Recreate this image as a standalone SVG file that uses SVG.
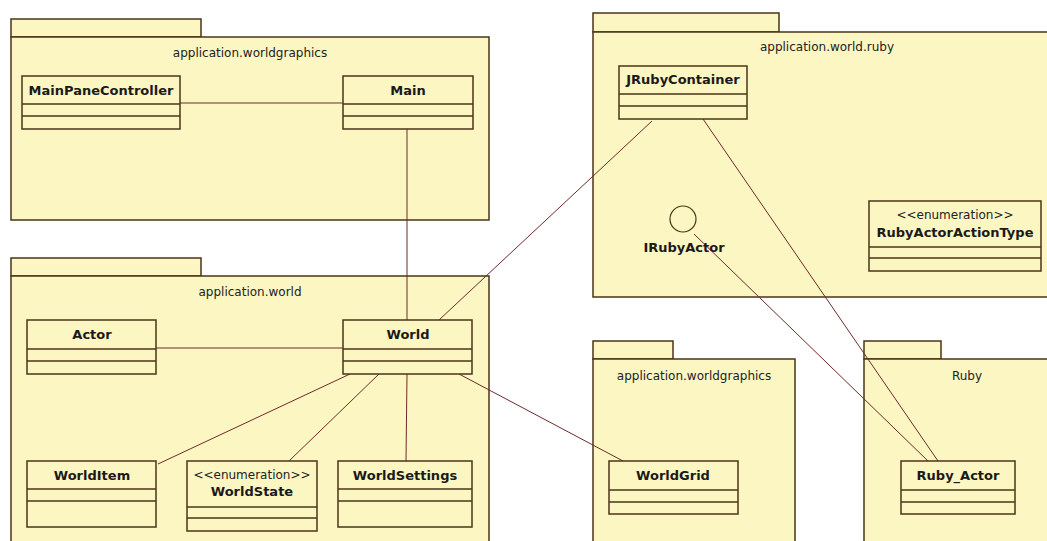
<svg xmlns="http://www.w3.org/2000/svg" width="1047" height="541" viewBox="0 0 1047 541">
<style>
.pkg{fill:#fcf6c2;stroke:#4a3418;stroke-width:1.5}
.cls{fill:#fcf6c2;stroke:#4a3418;stroke-width:1.5}
.div{stroke:#4a3418;stroke-width:1.5}
.ptitle{font-family:"DejaVu Sans",sans-serif;font-size:12px;fill:#222;text-anchor:middle}
.cname{font-family:"DejaVu Sans",sans-serif;font-size:13px;font-weight:bold;fill:#1a1a1a;text-anchor:middle}
.stereo{font-family:"DejaVu Sans",sans-serif;font-size:12px;fill:#222;text-anchor:middle}
.conn{stroke:#6e2a2a;stroke-width:1;fill:none}
</style>
<rect width="1047" height="541" fill="#ffffff"/>

<g id="pkg-worldgraphics-top">
<rect class="pkg" x="11" y="19" width="190" height="18"/>
<rect class="pkg" x="11" y="37" width="478" height="183"/>
<text class="ptitle" x="250" y="57">application.worldgraphics</text>
</g>
<g id="pkg-world">
<rect class="pkg" x="11" y="258" width="190" height="18"/>
<rect class="pkg" x="11" y="276" width="478" height="270"/>
<text class="ptitle" x="250" y="296">application.world</text>
</g>
<g id="pkg-ruby-app">
<rect class="pkg" x="593" y="13" width="186" height="19"/>
<rect class="pkg" x="593" y="32" width="460" height="265"/>
<text class="ptitle" x="827" y="51">application.world.ruby</text>
</g>
<g id="pkg-worldgraphics-bottom">
<rect class="pkg" x="593" y="341" width="80" height="18"/>
<rect class="pkg" x="593" y="359" width="202" height="187"/>
<text class="ptitle" x="694" y="380">application.worldgraphics</text>
</g>
<g id="pkg-Ruby">
<rect class="pkg" x="864" y="341" width="77" height="18"/>
<rect class="pkg" x="864" y="359" width="189" height="187"/>
<text class="ptitle" x="967" y="380">Ruby</text>
</g>

<g id="connectors">
<line class="conn" x1="180" y1="103" x2="343" y2="103"/>
<line class="conn" x1="407" y1="129" x2="407" y2="320"/>
<line class="conn" x1="156" y1="348" x2="343" y2="348"/>
<line class="conn" x1="350" y1="374" x2="158" y2="464"/>
<line class="conn" x1="379" y1="374" x2="289" y2="461"/>
<line class="conn" x1="407" y1="374" x2="406" y2="461"/>
<line class="conn" x1="459" y1="374" x2="623" y2="461"/>
<line class="conn" x1="439" y1="320" x2="652" y2="121"/>
<line class="conn" x1="703" y1="119" x2="938" y2="461"/>
<line class="conn" x1="694" y1="234" x2="928" y2="461"/>
</g>

<g id="MainPaneController">
<rect class="cls" x="22" y="76" width="158" height="53"/>
<line class="div" x1="22" y1="104" x2="180" y2="104"/>
<line class="div" x1="22" y1="116" x2="180" y2="116"/>
<text class="cname" x="101" y="95">MainPaneController</text>
</g>
<g id="Main">
<rect class="cls" x="343" y="76" width="130" height="53"/>
<line class="div" x1="343" y1="104" x2="473" y2="104"/>
<line class="div" x1="343" y1="116" x2="473" y2="116"/>
<text class="cname" x="408" y="95">Main</text>
</g>
<g id="Actor">
<rect class="cls" x="27" y="320" width="129" height="54"/>
<line class="div" x1="27" y1="349" x2="156" y2="349"/>
<line class="div" x1="27" y1="361" x2="156" y2="361"/>
<text class="cname" x="92" y="339">Actor</text>
</g>
<g id="World">
<rect class="cls" x="343" y="320" width="129" height="54"/>
<line class="div" x1="343" y1="349" x2="472" y2="349"/>
<line class="div" x1="343" y1="361" x2="472" y2="361"/>
<text class="cname" x="408" y="339">World</text>
</g>
<g id="WorldItem">
<rect class="cls" x="27" y="461" width="129" height="66"/>
<line class="div" x1="27" y1="489" x2="156" y2="489"/>
<line class="div" x1="27" y1="501" x2="156" y2="501"/>
<text class="cname" x="92" y="480">WorldItem</text>
</g>
<g id="WorldState">
<rect class="cls" x="187" y="461" width="130" height="70"/>
<line class="div" x1="187" y1="507" x2="317" y2="507"/>
<line class="div" x1="187" y1="518" x2="317" y2="518"/>
<text class="stereo" x="252" y="479">&lt;&lt;enumeration&gt;&gt;</text>
<text class="cname" x="252" y="496">WorldState</text>
</g>
<g id="WorldSettings">
<rect class="cls" x="338" y="461" width="134" height="66"/>
<line class="div" x1="338" y1="489" x2="472" y2="489"/>
<line class="div" x1="338" y1="501" x2="472" y2="501"/>
<text class="cname" x="405" y="480">WorldSettings</text>
</g>
<g id="JRubyContainer">
<rect class="cls" x="619" y="66" width="128" height="53"/>
<line class="div" x1="619" y1="94" x2="747" y2="94"/>
<line class="div" x1="619" y1="106" x2="747" y2="106"/>
<text class="cname" x="683" y="84">JRubyContainer</text>
</g>
<g id="IRubyActor">
<circle cx="683" cy="219" r="13" fill="#fcf6c2" stroke="#4a3418" stroke-width="1.2"/>
<text class="cname" x="684" y="252">IRubyActor</text>
</g>
<g id="RubyActorActionType">
<rect class="cls" x="869" y="201" width="172" height="70"/>
<line class="div" x1="869" y1="247" x2="1041" y2="247"/>
<line class="div" x1="869" y1="258" x2="1041" y2="258"/>
<text class="stereo" x="955" y="219">&lt;&lt;enumeration&gt;&gt;</text>
<text class="cname" x="955" y="237">RubyActorActionType</text>
</g>
<g id="WorldGrid">
<rect class="cls" x="609" y="461" width="129" height="53"/>
<line class="div" x1="609" y1="490" x2="738" y2="490"/>
<line class="div" x1="609" y1="502" x2="738" y2="502"/>
<text class="cname" x="673" y="480">WorldGrid</text>
</g>
<g id="Ruby_Actor">
<rect class="cls" x="901" y="461" width="114" height="53"/>
<line class="div" x1="901" y1="490" x2="1015" y2="490"/>
<line class="div" x1="901" y1="502" x2="1015" y2="502"/>
<text class="cname" x="958" y="480">Ruby_Actor</text>
</g>
</svg>
